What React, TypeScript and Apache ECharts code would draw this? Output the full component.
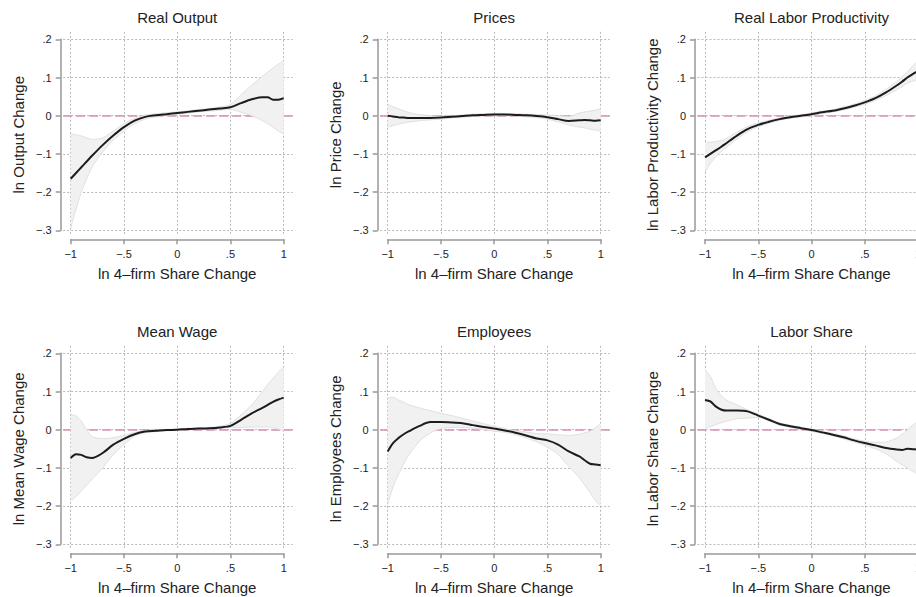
import React, { useEffect, useRef } from "react";
import * as echarts from "echarts";

// x positions (ln 4-firm share change) at which the smoothed curves were read
const X = [-1, -0.95, -0.9, -0.85, -0.8, -0.7, -0.6, -0.5, -0.4, -0.3, -0.2, -0.1, 0, 0.1, 0.2, 0.3, 0.4, 0.5, 0.6, 0.7, 0.8, 0.85, 0.9, 0.95, 1];

const OUTPUT_MEAN = [-0.165, -0.15, -0.135, -0.12, -0.105, -0.077, -0.052, -0.03, -0.013, -0.003, 0.001, 0.004, 0.007, 0.01, 0.013, 0.016, 0.019, 0.022, 0.033, 0.043, 0.048, 0.048, 0.042, 0.042, 0.046];
const OUTPUT_LO = [-0.295, -0.245, -0.2, -0.165, -0.135, -0.095, -0.064, -0.041, -0.021, -0.009, -0.003, 0.001, 0.004, 0.007, 0.01, 0.012, 0.014, 0.016, 0.009, 0.0, -0.013, -0.021, -0.03, -0.04, -0.048];
const OUTPUT_HI = [-0.048, -0.05, -0.053, -0.058, -0.062, -0.058, -0.04, -0.021, -0.007, 0.002, 0.005, 0.008, 0.01, 0.013, 0.016, 0.019, 0.023, 0.029, 0.055, 0.08, 0.103, 0.114, 0.125, 0.135, 0.143];

const PRICE_MEAN = [0, -0.002, -0.004, -0.005, -0.006, -0.006, -0.006, -0.005, -0.003, -0.001, 0.001, 0.002, 0.003, 0.003, 0.002, 0.001, -0.001, -0.004, -0.009, -0.014, -0.012, -0.011, -0.012, -0.013, -0.012];
const PRICE_LO = [-0.03, -0.026, -0.022, -0.019, -0.017, -0.013, -0.011, -0.009, -0.006, -0.004, -0.002, -0.001, 0, 0, -0.001, -0.003, -0.005, -0.009, -0.016, -0.024, -0.03, -0.032, -0.035, -0.038, -0.04];
const PRICE_HI = [0.03, 0.024, 0.018, 0.013, 0.008, 0.003, 0, -0.001, 0, 0.002, 0.004, 0.005, 0.006, 0.006, 0.005, 0.004, 0.003, 0.002, 0, -0.002, 0.007, 0.01, 0.012, 0.015, 0.018];

const PROD_MEAN = [-0.109, -0.1, -0.091, -0.082, -0.072, -0.052, -0.035, -0.024, -0.016, -0.009, -0.004, 0, 0.004, 0.009, 0.013, 0.019, 0.026, 0.035, 0.046, 0.061, 0.079, 0.089, 0.1, 0.109, 0.117];
const PROD_LO = [-0.148, -0.125, -0.108, -0.094, -0.083, -0.061, -0.042, -0.029, -0.02, -0.012, -0.007, -0.003, 0.001, 0.006, 0.01, 0.015, 0.022, 0.03, 0.04, 0.053, 0.068, 0.076, 0.085, 0.09, 0.095];
const PROD_HI = [-0.07, -0.069, -0.068, -0.065, -0.06, -0.043, -0.028, -0.019, -0.012, -0.006, -0.001, 0.003, 0.007, 0.012, 0.016, 0.023, 0.03, 0.04, 0.052, 0.069, 0.09, 0.102, 0.115, 0.13, 0.145];

const WAGE_MEAN = [-0.074, -0.064, -0.066, -0.072, -0.074, -0.061, -0.039, -0.024, -0.012, -0.005, -0.003, -0.001, 0, 0.002, 0.003, 0.004, 0.006, 0.01, 0.026, 0.043, 0.057, 0.065, 0.073, 0.079, 0.084];
const WAGE_LO = [-0.187, -0.175, -0.16, -0.145, -0.13, -0.1, -0.065, -0.039, -0.017, -0.008, -0.005, -0.003, -0.002, 0, 0.001, 0.002, 0.004, 0.006, 0.006, 0.007, 0.007, 0.007, 0.005, 0.001, -0.004];
const WAGE_HI = [0.039, 0.036, 0.022, 0.0, -0.018, -0.023, -0.021, -0.015, -0.007, -0.002, -0.001, 0.001, 0.002, 0.004, 0.005, 0.006, 0.009, 0.017, 0.039, 0.065, 0.1, 0.118, 0.135, 0.15, 0.165];

const EMP_MEAN = [-0.057, -0.035, -0.022, -0.012, -0.004, 0.01, 0.02, 0.02, 0.019, 0.017, 0.012, 0.007, 0.003, -0.002, -0.008, -0.015, -0.023, -0.028, -0.039, -0.057, -0.07, -0.08, -0.089, -0.091, -0.093];
const EMP_LO = [-0.196, -0.15, -0.117, -0.09, -0.065, -0.03, -0.009, 0.003, 0.006, 0.006, 0.004, 0.0, -0.004, -0.007, -0.013, -0.022, -0.032, -0.046, -0.065, -0.096, -0.126, -0.145, -0.165, -0.185, -0.2];
const EMP_HI = [0.084, 0.085, 0.078, 0.072, 0.065, 0.057, 0.05, 0.043, 0.037, 0.03, 0.023, 0.016, 0.009, 0.003, -0.003, -0.006, -0.01, -0.011, -0.013, -0.015, -0.012, -0.008, -0.004, 0.005, 0.017];

const LSHARE_MEAN = [0.078, 0.074, 0.061, 0.053, 0.05, 0.05, 0.048, 0.037, 0.026, 0.015, 0.009, 0.004, -0.001, -0.007, -0.013, -0.02, -0.028, -0.035, -0.041, -0.048, -0.052, -0.053, -0.05, -0.051, -0.052];
const LSHARE_LO = [0.004, 0.008, 0.013, 0.018, 0.022, 0.029, 0.03, 0.032, 0.023, 0.012, 0.006, 0.001, -0.004, -0.01, -0.016, -0.024, -0.032, -0.041, -0.05, -0.063, -0.083, -0.092, -0.1, -0.109, -0.117];
const LSHARE_HI = [0.157, 0.14, 0.109, 0.09, 0.078, 0.065, 0.052, 0.041, 0.029, 0.018, 0.012, 0.007, 0.002, -0.004, -0.01, -0.016, -0.024, -0.03, -0.033, -0.032, -0.022, -0.012, 0, 0.012, 0.022];

const TITLES = ["Real Output", "Prices", "Real Labor Productivity", "Mean Wage", "Employees", "Labor Share"];
const Y_NAMES = [
  "ln Output Change",
  "ln Price Change",
  "ln Labor Productivity Change",
  "ln Mean Wage Change",
  "ln Employees Change",
  "ln Labor Share Change",
];
const X_NAME = "ln 4\u2013firm Share Change";

const X_TICKS = [-1, -0.5, 0, 0.5, 1];
const X_TICK_LABELS = ["\u22121", "\u2212.5", "0", ".5", "1"];
const Y_TICKS = [-0.3, -0.2, -0.1, 0, 0.1, 0.2];
const Y_TICK_LABELS = ["\u2212.3", "\u2212.2", "\u2212.1", "0", ".1", ".2"];

const PANELS = [
  { mean: OUTPUT_MEAN, lo: OUTPUT_LO, hi: OUTPUT_HI },
  { mean: PRICE_MEAN, lo: PRICE_LO, hi: PRICE_HI },
  { mean: PROD_MEAN, lo: PROD_LO, hi: PROD_HI },
  { mean: WAGE_MEAN, lo: WAGE_LO, hi: WAGE_HI },
  { mean: EMP_MEAN, lo: EMP_LO, hi: EMP_HI },
  { mean: LSHARE_MEAN, lo: LSHARE_LO, hi: LSHARE_HI },
];

// layout (pixels)
const COL_X = [70.7, 387.7, 705];
const ROW_Y = [39.3, 353.3];
const W = 213;
const H = 191;
const FONT = "'Liberation Sans', Arial, Helvetica, sans-serif";
const TEXT = "#222";
const AXIS = "#999";

function nearestLabel(v: number, ticks: number[], labels: string[]) {
  let best = 0;
  for (let i = 1; i < ticks.length; i++) {
    if (Math.abs(ticks[i] - v) < Math.abs(ticks[best] - v)) best = i;
  }
  return labels[best];
}

export default function App() {
  const ref = useRef<HTMLDivElement>(null);

  useEffect(() => {
    if (!ref.current) return;
    const chart = echarts.init(ref.current, null, { renderer: "svg" });
    const grid: any[] = [];
    const xAxis: any[] = [];
    const yAxis: any[] = [];
    const series: any[] = [];
    const graphic: any[] = [];

    PANELS.forEach((p, i) => {
      const c = i % 3;
      const r = Math.floor(i / 3);
      const x0 = COL_X[c];
      const y0 = ROW_Y[r];
      const padL = 7.5, padR = 9, padT = 9, padB = 3.5;
      const ux = 2 / W;
      const uy = 0.5 / H;

      // plot region grid (data + grid lines)
      const gA = grid.length;
      grid.push({ left: x0 - padL, top: y0 - padT, width: W + padL + padR, height: H + padT + padB });
      xAxis.push({ gridIndex: gA, type: "value", min: -1 - padL * ux, max: 1 + padR * ux, show: false, axisLine: { onZero: false } });
      yAxis.push({ gridIndex: gA, type: "value", min: -0.3 - padB * uy, max: 0.2 + padT * uy, show: false, axisLine: { onZero: false } });

      // axis grid (exact tick range, offset axes)
      const gB = grid.length;
      grid.push({ left: x0, top: y0, width: W, height: H });
      xAxis.push({
        gridIndex: gB,
        type: "value",
        min: -1,
        max: 1,
        interval: 0.5,
        offset: 9,
        axisLine: { show: true, onZero: false, lineStyle: { color: AXIS, width: 1.5 } },
        axisTick: { show: true, length: 5, lineStyle: { color: AXIS, width: 1.5 } },
        splitLine: { show: false },
        axisLabel: {
          show: true,
          margin: 9,
          fontSize: 11,
          color: TEXT,
          fontFamily: FONT,
          formatter: (v: number) => nearestLabel(v, X_TICKS, X_TICK_LABELS),
        },
        name: X_NAME,
        nameLocation: "middle",
        nameGap: 27,
        nameTextStyle: { fontSize: 15, color: TEXT, fontFamily: FONT },
      });
      yAxis.push({
        gridIndex: gB,
        type: "value",
        min: -0.3,
        max: 0.2,
        interval: 0.1,
        offset: 10,
        axisLine: { show: true, onZero: false, lineStyle: { color: AXIS, width: 1.5 } },
        axisTick: { show: true, length: 5, lineStyle: { color: AXIS, width: 1.5 } },
        splitLine: { show: false },
        axisLabel: {
          show: true,
          margin: 9,
          fontSize: 11,
          color: TEXT,
          fontFamily: FONT,
          formatter: (v: number) => nearestLabel(v, Y_TICKS, Y_TICK_LABELS),
        },
        name: Y_NAMES[i],
        nameLocation: "middle",
        nameGap: 35,
        nameRotate: 90,
        nameTextStyle: { fontSize: 15, color: TEXT, fontFamily: FONT },
      });

      const meanPts = X.map((x, j) => [x, p.mean[j]]);
      // band data with the value first so that stacking happens on the y dimension
      const loPts = X.map((x, j) => [p.lo[j], x]);
      const diffPts = X.map((x, j) => [p.hi[j] - p.lo[j], x]);

      // grid lines
      series.push({
        type: "line",
        xAxisIndex: gA,
        yAxisIndex: gA,
        data: meanPts,
        symbol: "none",
        silent: true,
        lineStyle: { opacity: 0 },
        z: 1,
        markLine: {
          silent: true,
          symbol: "none",
          z: 1,
          label: { show: false },
          lineStyle: { color: "#b8b8b8", type: [2, 2], width: 1 },
          data: [...X_TICKS.map((v) => ({ xAxis: v })), ...Y_TICKS.map((v) => ({ yAxis: v }))],
        },
      });
      // zero reference line
      series.push({
        type: "line",
        xAxisIndex: gA,
        yAxisIndex: gA,
        data: meanPts,
        symbol: "none",
        silent: true,
        lineStyle: { opacity: 0 },
        z: 2,
        markLine: {
          silent: true,
          symbol: "none",
          z: 2,
          label: { show: false },
          lineStyle: { color: "#d68fb8", type: [9, 4], width: 1.5 },
          data: [{ yAxis: 0 }],
        },
      });
      // confidence band (lower bound + stacked width)
      series.push({
        type: "line",
        xAxisIndex: gA,
        yAxisIndex: gA,
        dimensions: ["v", "x"],
        encode: { x: 1, y: 0 },
        data: loPts,
        stack: "band" + i,
        stackStrategy: "all",
        smooth: 0.3,
        symbol: "none",
        silent: true,
        lineStyle: { color: "#dadada", width: 0.8 },
        z: 4,
      });
      series.push({
        type: "line",
        xAxisIndex: gA,
        yAxisIndex: gA,
        dimensions: ["v", "x"],
        encode: { x: 1, y: 0 },
        data: diffPts,
        stack: "band" + i,
        stackStrategy: "all",
        smooth: 0.3,
        symbol: "none",
        silent: true,
        lineStyle: { color: "#dadada", width: 0.8 },
        areaStyle: { color: "#f1f1f1", opacity: 1 },
        z: 3,
      });
      // fitted line
      series.push({
        type: "line",
        xAxisIndex: gA,
        yAxisIndex: gA,
        data: meanPts,
        smooth: 0.3,
        symbol: "none",
        silent: true,
        lineStyle: { color: "#1c1c1c", width: 2 },
        z: 5,
      });

      graphic.push({
        type: "text",
        x: x0 + W / 2,
        y: y0 - 22,
        style: {
          text: TITLES[i],
          align: "center",
          verticalAlign: "middle",
          fontSize: 15,
          fontFamily: FONT,
          fill: TEXT,
        },
      });
    });

    chart.setOption({
      animation: false,
      backgroundColor: "#ffffff",
      grid,
      xAxis,
      yAxis,
      series,
      graphic,
    });

    return () => chart.dispose();
  }, []);

  return (
    <div style={{ position: "absolute", left: 0, top: 0, width: 916, height: 597, overflow: "hidden", background: "#fff" }}>
      <div ref={ref} style={{ width: 960, height: 597 }} />
    </div>
  );
}
